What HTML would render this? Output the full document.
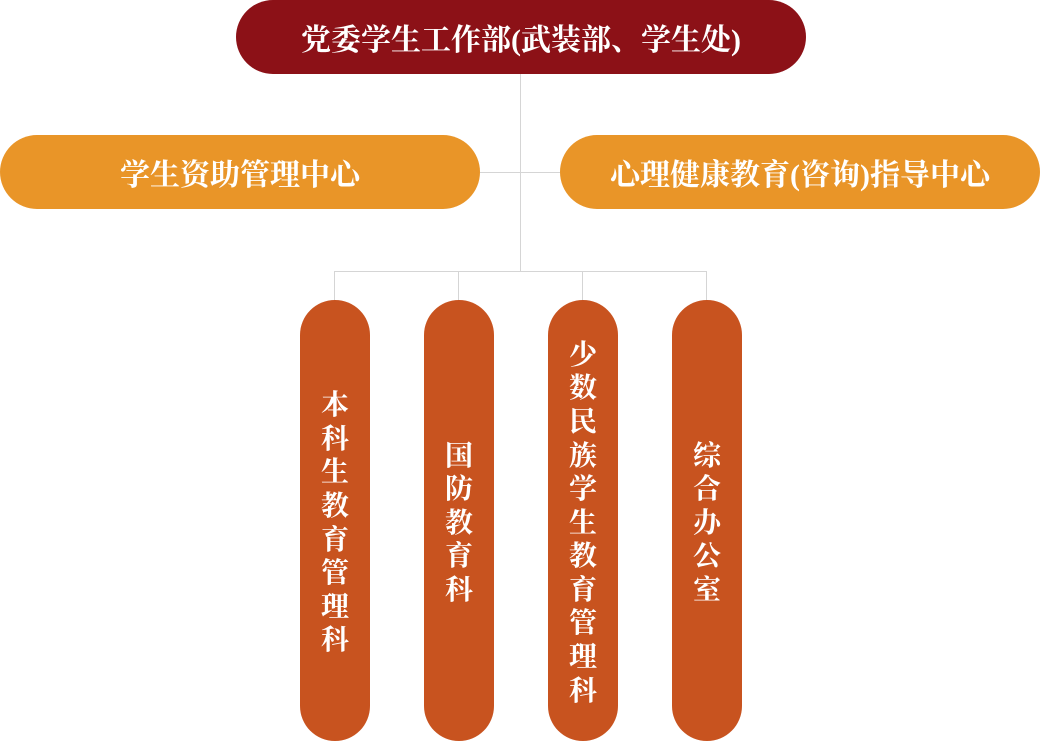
<!DOCTYPE html>
<html><head><meta charset="utf-8"><style>
body{margin:0;width:1040px;height:741px;background:#fff;position:relative;overflow:hidden;font-family:"Liberation Serif","Noto Serif CJK SC",serif;font-weight:bold;color:#fff}
.n{position:absolute;display:flex;align-items:center;justify-content:center;text-align:center}
.l{position:absolute;background:#d5d5d5}
.v{width:70px;top:300px;height:435px;padding-top:6px;border-radius:35px;background:#c8531f;font-size:28px;line-height:33.6px;flex-direction:column}
</style></head><body>
<div class="l" style="left:520px;top:74px;width:1px;height:197px"></div>
<div class="l" style="left:480px;top:172px;width:80px;height:1px"></div>
<div class="l" style="left:334px;top:271px;width:373px;height:1px"></div>
<div class="l" style="left:334px;top:271px;width:1px;height:30px"></div>
<div class="l" style="left:458px;top:271px;width:1px;height:30px"></div>
<div class="l" style="left:582px;top:271px;width:1px;height:30px"></div>
<div class="l" style="left:706px;top:271px;width:1px;height:30px"></div>
<div class="n" style="left:236px;top:0;width:570px;height:74px;border-radius:37px;background:#8c1117;font-size:30px">党委学生工作部(武装部、学生处)</div>
<div class="n" style="left:0;top:135px;width:480px;height:74px;border-radius:37px;background:#e99528;font-size:30px">学生资助管理中心</div>
<div class="n" style="left:560px;top:135px;width:480px;height:74px;border-radius:37px;background:#e99528;font-size:30px">心理健康教育(咨询)指导中心</div>
<div class="n v" style="left:300px">本<br>科<br>生<br>教<br>育<br>管<br>理<br>科</div>
<div class="n v" style="left:424px">国<br>防<br>教<br>育<br>科</div>
<div class="n v" style="left:548px">少<br>数<br>民<br>族<br>学<br>生<br>教<br>育<br>管<br>理<br>科</div>
<div class="n v" style="left:672px">综<br>合<br>办<br>公<br>室</div>
</body></html>
